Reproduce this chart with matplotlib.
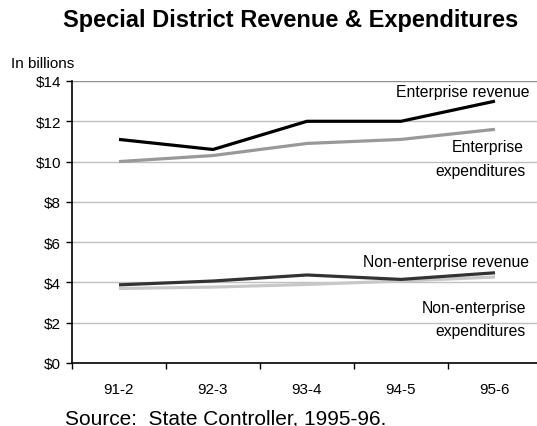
import matplotlib
matplotlib.use("Agg")
import matplotlib.pyplot as plt

plt.rcParams['font.family'] = ['Liberation Sans', 'DejaVu Sans']

categories = ["91-2", "92-3", "93-4", "94-5", "95-6"]
ent_rev = [11.1, 10.6, 12.0, 12.0, 13.0]
ent_exp = [10.0, 10.3, 10.9, 11.1, 11.6]
non_rev = [3.88, 4.07, 4.37, 4.15, 4.48]
non_exp = [3.7, 3.77, 3.9, 4.07, 4.27]
yticks = [0, 2, 4, 6, 8, 10, 12, 14]
ytick_labels = ["$0", "$2", "$4", "$6", "$8", "$10", "$12", "$14"]

W, H = 537, 427
fig = plt.figure(figsize=(W / 100, H / 100), dpi=100)
ax = fig.add_axes([72 / W, 1 - 364 / H, (542 - 72) / W, (364 - 82) / H])

x = list(range(len(categories)))
ax.plot(x, non_exp, color="#c8c8c8", lw=2.3, solid_capstyle="butt", zorder=3)
ax.plot(x, non_rev, color="#333333", lw=2.3, solid_capstyle="butt", zorder=4)
ax.plot(x, ent_exp, color="#999999", lw=2.3, solid_capstyle="butt", zorder=3)
ax.plot(x, ent_rev, color="#000000", lw=2.3, solid_capstyle="butt", zorder=4)

ax.set_xlim(-0.5, len(categories) - 0.5)
ax.set_ylim(0, 14)
ax.set_yticks(yticks)
ax.set_yticklabels(ytick_labels, fontsize=11)
ax.set_xticks([i - 0.5 for i in range(len(categories) + 1)], minor=False)
ax.set_xticklabels([])
ax.set_xticks(x, minor=True)
ax.set_xticklabels(categories, minor=True, fontsize=11)
ax.tick_params(axis="x", which="minor", length=0, pad=14)
ax.tick_params(axis="x", which="major", length=4, direction="out", width=1)
ax.tick_params(axis="y", length=4, direction="out", width=1, pad=4)

for v in yticks[1:]:
    ax.axhline(v, color="#c0c0c0" if v < 14 else "#909090", lw=1, zorder=1)
ax.spines["top"].set_visible(False)
ax.spines["right"].set_visible(False)
ax.spines["left"].set_linewidth(1.2)
ax.spines["bottom"].set_linewidth(1.2)

fig.text(63 / W, 1 - 21 / H, "Special District Revenue & Expenditures",
         fontsize=17, fontweight="bold", ha="left", va="center")
fig.text(11 / W, 1 - 64 / H, "In billions", fontsize=11, ha="left", va="center")

def t(px, py, s):
    fig.text(px / W, 1 - py / H, s, fontsize=11.3, ha="right", va="center")

t(529, 92, "Enterprise revenue")
t(524, 148, "Enterprise")
t(526, 172, "expenditures")
t(529, 262, "Non-enterprise revenue")
t(526, 308, "Non-enterprise")
t(526, 332, "expenditures")

fig.text(65 / W, 1 - 419 / H, "Source:  State Controller, 1995-96.",
         fontsize=15, ha="left", va="center")

fig.savefig("out.png", dpi=100)
